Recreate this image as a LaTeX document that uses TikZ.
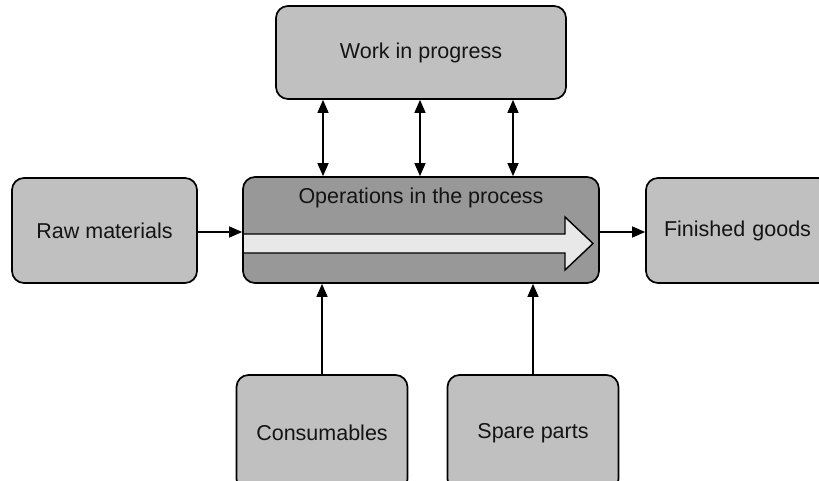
\documentclass[tikz,border=0pt]{standalone}
\usepackage{fontspec}
\setmainfont{Liberation Sans}
\usetikzlibrary{arrows.meta}
\definecolor{boxgray}{RGB}{192,192,192}
\definecolor{opsgray}{RGB}{152,152,152}
\definecolor{arrowfill}{RGB}{232,232,232}
\definecolor{txt}{RGB}{20,20,20}
\begin{document}
\begin{tikzpicture}[x=1pt,y=-1pt,
  box/.style={draw=black, line width=1.7pt, fill=boxgray, rounded corners=12pt,
    inner sep=0pt, text=txt, font=\fontsize{21.5}{25}\selectfont},
  conn/.style={line width=1.3pt, -{Triangle[length=13pt,width=11pt]}},
  biconn/.style={line width=1.3pt, {Triangle[length=13pt,width=11pt]}-{Triangle[length=13pt,width=11pt]}}]
\fill[white] (0,0) rectangle (819,481);
\clip (0,0) rectangle (819,481);
\node[box, minimum width=290pt, minimum height=93pt] (work) at (421,52.5) {\raisebox{-2pt}{Work in progress}};
\node[box, fill=opsgray, minimum width=356pt, minimum height=106pt] (ops) at (421,230) {};
\node[text=txt, font=\fontsize{21.5}{25}\selectfont] (opstext) at (421,198) {Operations in the process};
\node[box, minimum width=185pt, minimum height=105pt] (raw) at (104.5,230.5) {\raisebox{-2pt}{Raw materials}};
\node[box, minimum width=184pt, minimum height=105pt, text width=184pt, align=left] (fin) at (738,230.5) {\hspace{18pt}\raisebox{-2pt}{Finished goods}};
\node[box, minimum width=171pt, minimum height=116pt] (cons) at (322,433) {Consumables};
\node[box, minimum width=171pt, minimum height=116pt] (spare) at (533,433) {Spare parts};
% big process arrow
\draw[line width=1.4pt, fill=arrowfill, line join=miter]
  (244,234) -- (565,234) -- (565,217) -- (593,243.5) -- (565,270) -- (565,253) -- (244,253);
% connectors
\draw[biconn] ([xshift=-98pt]work.south) -- ([xshift=-98pt]ops.north);
\draw[biconn] ([xshift=-1pt]work.south) -- ([xshift=-1pt]ops.north);
\draw[biconn] ([xshift=92pt]work.south) -- ([xshift=92pt]ops.north);
\draw[conn] (raw.east |- 0,232) -- (ops.west |- 0,232);
\draw[conn] (ops.east |- 0,232) -- (fin.west |- 0,232);
\draw[conn] (cons.north) -- (cons.north |- ops.south);
\draw[conn] (spare.north) -- (spare.north |- ops.south);
\end{tikzpicture}
\end{document}
